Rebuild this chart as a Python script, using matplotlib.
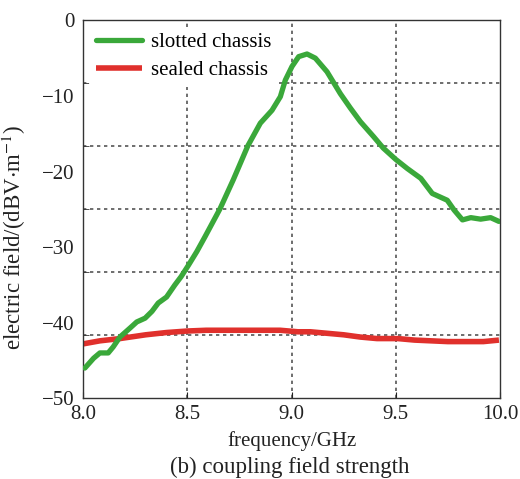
import numpy as np
import matplotlib
matplotlib.use("Agg")
import matplotlib.pyplot as plt
from matplotlib.ticker import FixedLocator

plt.rcParams['font.family'] = ['Liberation Serif', 'DejaVu Serif']
plt.rcParams['mathtext.fontset'] = 'stix'

# slotted chassis (green)
slot_f = [8.008, 8.05, 8.08, 8.12, 8.144, 8.176, 8.225, 8.257, 8.297, 8.33, 8.36, 8.40,
          8.44, 8.47, 8.505, 8.545, 8.585, 8.657, 8.72, 8.79, 8.85, 8.906, 8.946, 8.97,
          9.002, 9.034, 9.074, 9.114, 9.17, 9.234, 9.282, 9.33, 9.394, 9.44, 9.50,
          9.555, 9.62, 9.675, 9.715, 9.747, 9.78, 9.82, 9.86, 9.907, 9.955, 9.995]
slot_e = [-46.0, -44.7, -44.0, -44.0, -43.2, -41.9, -40.7, -39.9, -39.4, -38.5, -37.4, -36.6,
          -35.0, -33.9, -32.4, -30.6, -28.6, -24.9, -21.1, -16.6, -13.6, -11.9, -10.1, -7.9,
          -6.1, -4.8, -4.45, -5.0, -6.8, -9.7, -11.6, -13.4, -15.4, -16.9, -18.4,
          -19.6, -20.9, -22.9, -23.4, -23.8, -25.1, -26.4, -26.1, -26.3, -26.1, -26.6]

# sealed chassis (red)
seal_f = [8.0, 8.08, 8.176, 8.30, 8.40, 8.50, 8.59, 8.945, 9.03, 9.09, 9.17, 9.25, 9.33,
          9.41, 9.51, 9.59, 9.75, 9.92, 9.995]
seal_e = [-42.8, -42.4, -42.1, -41.6, -41.3, -41.1, -41.0, -41.0, -41.2, -41.2, -41.4, -41.6,
          -41.9, -42.1, -42.1, -42.3, -42.5, -42.5, -42.3]

xticks = [8.0, 8.5, 9.0, 9.5, 10.0]
xtick_labels = ['8.0', '8.5', '9.0', '9.5', '10.0']
yticks = [0, -10, -20, -30, -40, -50]
ytick_labels = ['0', '−10', '−20', '−30', '−40', '−50']

fig = plt.figure(figsize=(5.2, 4.79), dpi=100)
ax = fig.add_axes([0.160, 0.1685, 0.8015, 0.789])

ax.set_xlim(8.0, 10.0)
ax.set_ylim(-50, 0)

grid_kw = dict(color='#555555', linewidth=1.2, linestyle=(0, (2, 2.2)), zorder=1)
for gx in [8.5, 9.0, 9.5]:
    ax.axvline(gx, **grid_kw)
for gy in [-50 / 6 * k for k in range(1, 6)]:
    ax.axhline(gy, **grid_kw)

ax.plot(slot_f, slot_e, color='#3aa83a', linewidth=3.8, label='slotted chassis',
        solid_capstyle='round', solid_joinstyle='round', zorder=3)
ax.plot(seal_f, seal_e, color='#e0302c', linewidth=4.0, label='sealed chassis',
        solid_capstyle='butt', zorder=2)

ax.set_xticks(xticks)
ax.set_xticklabels(xtick_labels)
ax.set_yticks(yticks)
ax.set_yticklabels(ytick_labels)
ax.yaxis.set_minor_locator(FixedLocator([-50 / 6 * k for k in range(1, 6)]))
ax.tick_params(axis='both', which='major', labelsize=15, colors='#222222', direction='in')
ax.tick_params(axis='y', which='major', length=0, pad=6)
ax.tick_params(axis='x', which='major', length=4, pad=5)
ax.tick_params(axis='y', which='minor', length=4, direction='in', color='#333333')

for s in ax.spines.values():
    s.set_color('#333333')
    s.set_linewidth(1.0)

ax.set_xlabel('frequency/GHz', fontsize=15, color='#222222', labelpad=5)
ax.set_ylabel(r'electric field/(dBV$\cdot$m$^{-1}$)', fontsize=16.5, color='#222222')
ax.yaxis.set_label_coords(-0.133, 0.427)

leg = ax.legend(loc='upper left', fontsize=15, frameon=True, handlelength=2.2,
                borderaxespad=0.3, labelspacing=0.4, handletextpad=0.45, borderpad=0.3)
leg.get_frame().set_edgecolor('none')
leg.get_frame().set_facecolor('white')
leg.get_frame().set_alpha(1.0)
leg.set_zorder(5)

fig.text(0.557, 0.012, '(b) coupling field strength', fontsize=16.5, ha='center',
         va='baseline', color='#222222')

fig.savefig('out.png', dpi=100)
